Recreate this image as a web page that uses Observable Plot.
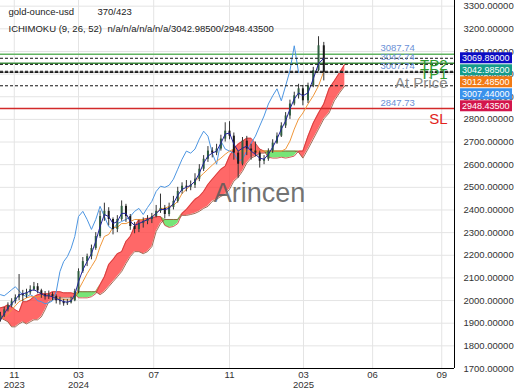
<!DOCTYPE html>
<html><head><meta charset="utf-8">
<script src="https://cdn.jsdelivr.net/npm/d3@7"></script>
<script src="https://cdn.jsdelivr.net/npm/@observablehq/plot@0.6"></script>
<style>body{margin:0;background:#fff}#chart svg{display:block}</style>
</head><body><div id="chart"></div>
<script>
// ---- weekly samples ----
const firstWeek = new Date(Date.UTC(2023, 9, 6));
const firstOpen = 1915;
const close = [1932,1959,1977,1995,2012,2026,2021,2034,2048,2061,
 2043,2026,2017,2026,2017,1999,1995,1986,1990,1999,
 2039,2128,2172,2194,2230,2283,2371,2394,2358,2314,
 2358,2416,2371,2327,2314,2340,2349,2358,2371,2394,
 2407,2380,2411,2438,2482,2505,2500,2509,2536,2580,
 2624,2660,2651,2669,2713,2748,2726,2651,2602,2704,
 2669,2660,2651,2615,2624,2660,2695,2726,2771,2815,
 2868,2904,2935,2882,2948,3015,3125,3007];
const high = [1948,1970,1990,2008,2025,2115,2045,2050,2065,2080,
 2075,2050,2040,2042,2035,2025,2015,2005,2005,2015,
 2050,2140,2190,2205,2245,2300,2395,2430,2410,2365,
 2375,2440,2425,2380,2345,2355,2365,2375,2385,2420,
 2470,2420,2430,2460,2500,2520,2530,2528,2560,2600,
 2640,2680,2675,2690,2730,2785,2790,2740,2660,2720,
 2725,2690,2700,2660,2640,2670,2710,2740,2785,2830,
 2885,2920,2955,2950,2960,3030,3165,3140];
const low = [1905,1925,1950,1968,1985,2000,1995,2010,2025,2040,
 2030,2010,2002,2005,2000,1985,1980,1975,1978,1985,
 1995,2030,2120,2150,2180,2222,2275,2350,2330,2290,
 2300,2350,2345,2310,2295,2300,2320,2335,2340,2365,
 2385,2360,2370,2400,2430,2470,2480,2485,2495,2525,
 2570,2610,2630,2640,2660,2700,2710,2620,2540,2595,
 2640,2620,2635,2585,2600,2615,2650,2690,2720,2760,
 2800,2860,2890,2860,2870,2940,3010,2970];
const tenkan = [1915,1941,1968,1986,2003,2026,2030,2034,2043,2048,
 2039,2030,2021,2021,2017,2008,2003,1995,1993,1999,
 2026,2083,2136,2172,2207,2261,2327,2380,2371,2340,
 2349,2385,2385,2349,2332,2340,2349,2358,2367,2385,
 2402,2402,2407,2429,2465,2491,2500,2509,2527,2562,
 2607,2638,2651,2660,2695,2735,2740,2691,2660,2673,
 2682,2660,2646,2629,2624,2646,2677,2713,2757,2793,
 2846,2890,2917,2904,2917,2979,3046,3070];
const kijun = [1915,1928,1941,1959,1977,1995,2003,2012,2017,2017,
 2017,2021,2021,2021,2017,2012,2008,2005,2003,2003,
 2012,2048,2083,2119,2150,2181,2238,2283,2292,2323,
 2323,2340,2340,2349,2358,2358,2358,2358,2371,2385,
 2407,2407,2416,2420,2438,2473,2491,2509,2527,2544,
 2562,2580,2598,2615,2629,2646,2660,2669,2660,2660,
 2660,2660,2660,2660,2660,2660,2660,2660,2660,2669,
 2704,2757,2802,2828,2868,2904,2948,3012];
const senkouA = [1968,1972,1981,1972,1959,1950,1995,1995,2003,2017,
 2026,2030,2030,2030,2039,2039,2039,2034,2034,2034,
 2030,2012,2012,2012,2017,2030,2070,2105,2159,2181,
 2207,2216,2261,2283,2327,2358,2358,2363,2363,2371,
 2371,2332,2323,2327,2340,2385,2402,2425,2447,2460,
 2482,2513,2536,2558,2580,2593,2638,2669,2691,2704,
 2717,2717,2695,2669,2660,2633,2629,2629,2633,2629,
 2633,2638,2660,2660,2726,2784,2828,2868,2935,2970,
 3006,3043];
const senkouB = [1924,1915,1906,1884,1884,1897,1906,1897,1906,1915,
 1915,1928,1959,1995,2003,2008,2012,2012,2012,2012,
 2012,2039,2039,2039,2039,2039,2026,2039,2061,2083,
 2105,2128,2163,2194,2216,2216,2207,2216,2238,2305,
 2340,2358,2358,2358,2358,2376,2376,2380,2385,2394,
 2407,2416,2438,2447,2460,2469,2491,2527,2544,2571,
 2607,2629,2638,2651,2651,2660,2660,2660,2660,2660,
 2660,2660,2655,2629,2669,2713,2757,2802,2828,2882,
 2917,2948];
const chikouShift = 5;

const tagValues = [3069.89, 3042.985, 3012.485, 3007.44, 2948.435];
const tagColors = ["#0c0cc4", "#159c8a", "#f27a14", "#3a92ec", "#d3164c"];
const levelValues = [3087.74, 3047.74, 3007.74, 2847.73];
const levelNames = ["TP2", "TP1", "At Price", "SL"];
const levelLineColors = ["#62b462", "#3f8f3f", "#9a9a9a", "#d22a2a"];
const levelTextColors = ["#2f9a2f", "#2f9a2f", "#8c8c8c", "#e2231c"];

const yTicks = d3.range(1700, 3301, 100);
const xTicks = [Date.UTC(2023,10,1), Date.UTC(2024,2,1), Date.UTC(2024,6,1), Date.UTC(2024,10,1), Date.UTC(2025,2,1), Date.UTC(2025,5,1), Date.UTC(2025,8,1)].map(t => new Date(t));
const xTickLabels = ["11\n2023", "03\n2024", "07", "11", "03\n2025", "06", "09"];
const xLabelMap = new Map(xTicks.map((d, i) => [+d, xTickLabels[i]]));

// ---- tables built from the arrays ----
const dates = senkouA.map((_, i) => d3.utcDay.offset(firstWeek, 7 * i));
const bars = close.map((c, i) => ({date: dates[i], open: i ? close[i - 1] : firstOpen, close: c, high: high[i], low: low[i]}));
const lines = close.map((c, i) => ({date: dates[i], tenkan: tenkan[i], kijun: kijun[i]}));
const chikou = close.slice(chikouShift).map((c, i) => ({date: dates[i], v: c}));
const cloud = senkouA.map((a, i) => ({date: dates[i], a, b: senkouB[i]}));

const unitsPerPx = (3325 - 1700) / 368;
const tagPos = [];
tagValues.forEach((v, i) => tagPos.push(i ? Math.min(v, tagPos[i - 1] - 12 * unitsPerPx) : v));

const font = "'Liberation Sans', Arial, sans-serif";

const chart = Plot.plot({
  width: 520, height: 390,
  marginLeft: 0, marginRight: 66, marginTop: 0, marginBottom: 22,
  style: {fontFamily: font, fontSize: "9.5px", background: "#fff", color: "#333"},
  x: {type: "utc", domain: [new Date(Date.UTC(2023,9,6)), new Date(Date.UTC(2024,2,1)), new Date(Date.UTC(2025,2,1)), new Date(Date.UTC(2025,8,18))], range: [0, 78, 303, 454]},
  y: {domain: [1700, 3325]},
  marks: [
    Plot.gridY(yTicks, {stroke: "#e4e4e4", strokeOpacity: 1}),
    Plot.gridX(xTicks, {stroke: "#e4e4e4", strokeOpacity: 1}),
    Plot.areaY(cloud, {x: "date", y1: "b", y2: d => Math.max(d.a, d.b), fill: "#ff3d3d", fillOpacity: 0.78}),
    Plot.areaY(cloud, {x: "date", y1: "a", y2: d => Math.max(d.a, d.b), fill: "#5fe05f", fillOpacity: 0.85}),
    Plot.lineY(cloud, {x: "date", y: "a", stroke: "#c93434", strokeWidth: 0.8}),
    Plot.lineY(cloud, {x: "date", y: "b", stroke: "#8c4a2f", strokeWidth: 0.8}),
    Plot.ruleY(levelValues, {stroke: (d, i) => levelLineColors[i], strokeWidth: 1.5}),
    Plot.lineY(chikou, {x: "date", y: "v", stroke: "#4d96e2", strokeWidth: 1}),
    Plot.lineY(lines, {x: "date", y: "kijun", stroke: "#f0973a", strokeWidth: 1}),
    Plot.ruleX(bars, {x: "date", y1: "low", y2: "high", stroke: "#333", strokeWidth: 1}),
    Plot.ruleX(bars, {x: "date", y1: "open", y2: "close", stroke: d => d.close >= d.open ? "#2f5d40" : "#1a1a1a", strokeWidth: 2}),
    Plot.lineY(lines, {x: "date", y: "tenkan", stroke: "#22229c", strokeWidth: 1}),
    Plot.ruleY(tagValues, {stroke: "#111", strokeDasharray: "3,2", strokeWidth: 1}),
    Plot.text(levelValues, {y: d => d, text: d => d.toFixed(2), frameAnchor: "right", textAnchor: "start", dx: -74, dy: -6, fill: "#6a8fd6", fontSize: 9.5}),
    Plot.text(levelValues, {y: d => d, text: (d, i) => levelNames[i], frameAnchor: "right", textAnchor: "end", dx: -7, dy: 11, fill: (d, i) => levelTextColors[i], fontSize: 15}),
    Plot.text(["Arincen"], {text: d => d, frameAnchor: "middle", dx: 32, dy: 9, fontSize: 27, fill: "#5a5a5a", fillOpacity: 0.85}),
    Plot.text(["gold-ounce-usd"], {text: d => d, frameAnchor: "top-left", dx: 8, dy: 8, fill: "#222", fontSize: 9.5}),
    Plot.text(["370/423"], {text: d => d, frameAnchor: "top-left", dx: 97, dy: 8, fill: "#222", fontSize: 9.5}),
    Plot.text(["ICHIMOKU (9, 26, 52)"], {text: d => d, frameAnchor: "top-left", dx: 8, dy: 25, fill: "#222", fontSize: 9.5}),
    Plot.text(["n/a/n/a/n/a/n/a/3042.98500/2948.43500"], {text: d => d, frameAnchor: "top-left", dx: 107, dy: 25, fill: "#222", fontSize: 9.5}),
    Plot.axisY(yTicks, {anchor: "right", tickSize: 0, tickPadding: 9, tickFormat: d => d.toFixed(5), fill: "#333", fontSize: 9.5}),
    Plot.axisX(xTicks, {tickSize: 0, tickPadding: 3, tickFormat: d => xLabelMap.get(+d), fill: "#333", fontSize: 9.5, lineHeight: 1}),
    Plot.ruleY([1700], {stroke: "#000", strokeWidth: 1}),
    Plot.ruleX([new Date(Date.UTC(2025,8,18))], {stroke: "#000", strokeWidth: 1}),
    (index, scales, values, dim) => {
      const g = d3.create("svg:g").attr("text-anchor", "start");
      const x0 = dim.width - dim.marginRight + 6;
      tagPos.forEach((p, i) => {
        const yy = scales.y(p);
        g.append("rect").attr("x", x0).attr("y", yy - 5.5).attr("width", 52).attr("height", 11).attr("fill", tagColors[i]);
        g.append("text").attr("x", x0 + 2).attr("y", yy).attr("dy", "0.35em").attr("fill", "#fff")
          .attr("text-anchor", "start").attr("font-size", 9).attr("font-family", font).text(tagValues[i].toFixed(5));
      });
      return g.node();
    }
  ]
});
document.getElementById("chart").append(chart);
</script>
</body></html>
